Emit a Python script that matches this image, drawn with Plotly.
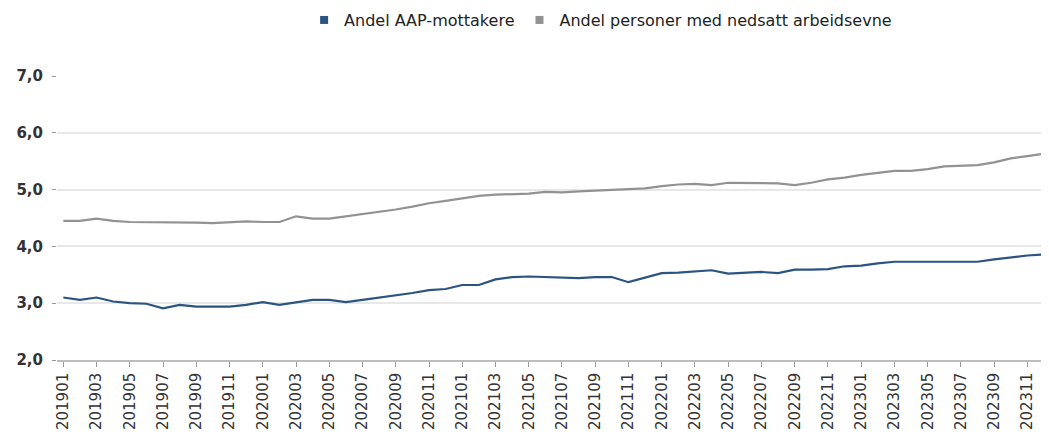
import plotly.graph_objects as go

months = [f"{y}{m:02d}" for y in range(2019, 2024) for m in range(1, 13)]

aap = [3.10, 3.06, 3.10, 3.03, 3.00, 2.99, 2.91, 2.97, 2.94, 2.94,
       2.94, 2.97, 3.02, 2.97, 3.02, 3.06, 3.06, 3.02, 3.06, 3.10,
       3.13, 3.18, 3.23, 3.25, 3.32, 3.32, 3.42, 3.46, 3.47, 3.46,
       3.44, 3.44, 3.46, 3.46, 3.37, 3.45, 3.53, 3.54, 3.56, 3.58,
       3.52, 3.54, 3.55, 3.53, 3.59, 3.59, 3.60, 3.65, 3.66, 3.70,
       3.73, 3.73, 3.73, 3.74, 3.73, 3.73, 3.77, 3.81, 3.84, 3.86]

nedsatt = [4.45, 4.45, 4.49, 4.45, 4.43, 4.43, 4.43, 4.43, 4.42, 4.41,
           4.43, 4.44, 4.43, 4.43, 4.53, 4.49, 4.49, 4.53, 4.56, 4.60,
           4.65, 4.70, 4.76, 4.80, 4.85, 4.89, 4.91, 4.92, 4.93, 4.96,
           4.95, 4.97, 4.98, 4.99, 5.01, 5.02, 5.06, 5.09, 5.10, 5.08,
           5.12, 5.12, 5.12, 5.11, 5.08, 5.12, 5.18, 5.21, 5.26, 5.29,
           5.33, 5.33, 5.36, 5.41, 5.42, 5.43, 5.48, 5.55, 5.59, 5.63]

tick_labels = months[::2]
names = ["Andel AAP-mottakere", "Andel personer med nedsatt arbeidsevne"]
colors = ["#2b5482", "#929292"]

fig = go.Figure()
for vals, name, col in zip([aap, nedsatt], names, colors):
    fig.add_trace(go.Scatter(x=months, y=vals, mode="lines", name=name,
                             line=dict(color=col, width=2.2),
                             showlegend=False))
    fig.add_trace(go.Scatter(x=[None], y=[None], mode="markers", name=name,
                             marker=dict(symbol="square", size=8, color=col)))

fig.update_layout(
    width=1049, height=439,
    margin=dict(l=49, r=8, t=68, b=87, autoexpand=False),
    paper_bgcolor="white", plot_bgcolor="white",
    separators=", ",
    font=dict(family="DejaVu Sans", color="#333333"),
    legend=dict(orientation="h", x=0.548, xanchor="center", y=1.197,
                yanchor="middle", font=dict(size=16, color="#222222"),
                itemwidth=30, tracegroupgap=0),
    showlegend=True,
)
fig.update_xaxes(
    type="category", range=[-0.38, 59.3],
    tickmode="array", tickvals=tick_labels, ticktext=tick_labels,
    tickangle=-90, tickfont=dict(size=15, color="#333333"),
    ticks="outside", ticklen=5, tickcolor="#9a9a9a",
    showline=True, linecolor="#bdbdbd", linewidth=1.5,
    showgrid=False,
)
fig.update_yaxes(
    range=[2, 7], dtick=1, tickformat=".1f",
    tickfont=dict(size=15, color="#333333", weight="bold"),
    ticks="outside", ticklen=4, tickcolor="#9a9a9a",
    ticklabelstandoff=6,
    showgrid=True, gridcolor="#e8e8e8", gridwidth=1.5,
    zeroline=False, showline=False,
)

fig.write_html("out.html")
